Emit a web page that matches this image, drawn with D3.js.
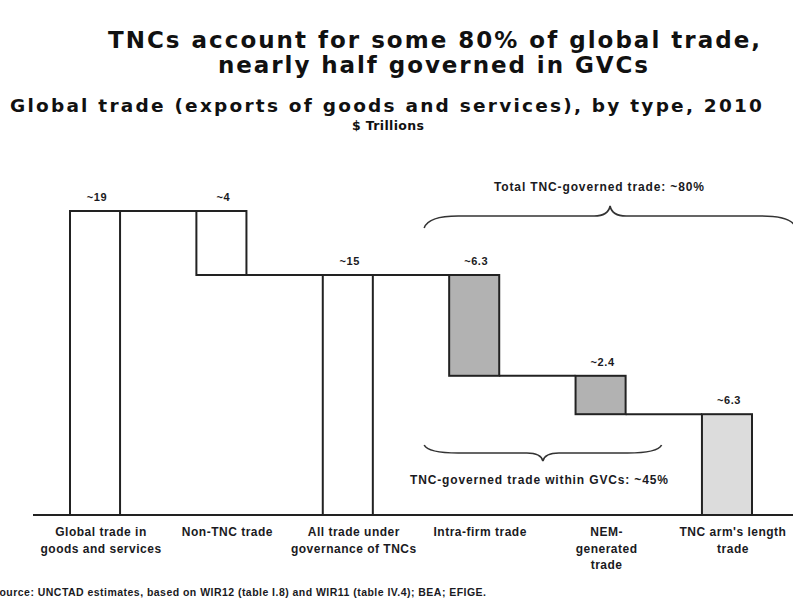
<!DOCTYPE html>
<html>
<head>
<meta charset="utf-8">
<script src="https://cdn.jsdelivr.net/npm/d3@7"></script>
<style>
  body { margin: 0; background: #fff; }
  svg { display: block; }
  .hd { font-family: "DejaVu Sans", Verdana, sans-serif; font-weight: bold; fill: #111; }
  .lbl { font-family: "Liberation Sans", Arial, sans-serif; font-weight: bold; fill: #1a1a22; }
</style>
</head>
<body>
<script>
// Comercio global por tipo, 2010 ($ billones)
var categorias = ["Global trade in|goods and services", "Non-TNC trade", "All trade under|governance of TNCs",
                  "Intra-firm trade", "NEM-|generated|trade", "TNC arm's length|trade"];
var valores = [19, 4, 15, 6.3, 2.4, 6.3];
var tipos = ["total", "step", "total", "step", "step", "step"];
var etiquetas = ["~19", "~4", "~15", "~6.3", "~2.4", "~6.3"];
var rellenos = ["#fff", "#fff", "#fff", "#b2b2b2", "#b2b2b2", "#dcdcdc"];

var width = 793, height = 604;

var svg = d3.select("body").append("svg")
    .attr("width", width)
    .attr("height", height);

// texto con ancho fijo (espaciado ajustado)
function texto(cls, x, y, size, w, str) {
    var t = svg.append("text").attr("class", cls)
        .attr("x", x).attr("y", y)
        .style("font-size", size + "px")
        .text(str);
    if (w) t.attr("textLength", w).attr("lengthAdjust", "spacing");
    return t;
}

// titulos
texto("hd", 108, 48, 23, 652, "TNCs account for some 80% of global trade,");
texto("hd", 218, 73, 23, 430, "nearly half governed in GVCs");
texto("hd", 10, 112, 18.5, 752, "Global trade (exports of goods and services), by type, 2010");
texto("hd", 352, 130, 12.5, 72, "$ Trillions");

var x = d3.scaleBand()
    .domain(categorias)
    .range([70, 752])
    .paddingInner(0.604)
    .paddingOuter(0);

var y = d3.scaleLinear()
    .domain([0, 19])
    .range([515, 211]);

// calcular inicio y fin de cada barra
var nivel = 0;
var datos = categorias.map(function(c, i) {
    var d = { cat: c, valor: valores[i], etiqueta: etiquetas[i], fill: rellenos[i] };
    if (tipos[i] == "total") {
        d.y0 = 0; d.y1 = valores[i];
        nivel = valores[i];
    } else {
        d.y1 = nivel; d.y0 = nivel - valores[i];
        nivel = d.y0;
        if (i == 1) nivel = valores[2];
    }
    d.nivel = (tipos[i] == "total") ? d.y1 : d.y0;
    return d;
});

// linea base
svg.append("line")
    .attr("x1", 33).attr("x2", width)
    .attr("y1", y(0)).attr("y2", y(0))
    .attr("stroke", "#222").attr("stroke-width", 2);

// conectores
svg.append("g").selectAll("line")
    .data(datos.slice(0, -1))
    .enter().append("line")
    .attr("x1", function(d) { return x(d.cat) + x.bandwidth(); })
    .attr("x2", function(d, i) { return x(categorias[i + 1]); })
    .attr("y1", function(d) { return y(d.nivel); })
    .attr("y2", function(d) { return y(d.nivel); })
    .attr("stroke", "#222").attr("stroke-width", 2);

svg.append("g").selectAll("rect")
    .data(datos)
    .enter().append("rect")
    .attr("x", function(d) { return x(d.cat); })
    .attr("width", x.bandwidth())
    .attr("y", function(d) { return y(d.y1); })
    .attr("height", function(d) { return y(d.y0) - y(d.y1); })
    .attr("fill", function(d) { return d.fill; })
    .attr("stroke", "#222").attr("stroke-width", 2);

// valores
svg.append("g").selectAll("text")
    .data(datos)
    .enter().append("text")
    .attr("class", "lbl")
    .attr("x", function(d) { return x(d.cat) + x.bandwidth() / 2 + 2; })
    .attr("y", function(d) { return y(d.y1) - 10; })
    .attr("text-anchor", "middle")
    .style("font-size", "11px")
    .style("letter-spacing", "0.6px")
    .text(function(d) { return d.etiqueta; });

// etiquetas eje x
var xl = svg.append("g").selectAll("text")
    .data(datos)
    .enter().append("text")
    .attr("class", "lbl")
    .attr("text-anchor", "middle")
    .style("font-size", "12px")
    .style("letter-spacing", "0.5px")
    .attr("transform", function(d) { return "translate(" + (x(d.cat) + x.bandwidth() / 2 + 6) + ",536)"; });
xl.selectAll("tspan")
    .data(function(d) { return d.cat.split("|"); })
    .enter().append("tspan")
    .attr("x", 0)
    .attr("dy", function(d, i) { return i ? 16.5 : 0; })
    .text(function(d) { return d; });

// llaves
function brace(x1, x2, yEnd, yFlat, yTip) {
    var m = (x1 + x2) / 2, r = 34, t = 16;
    var p = d3.path();
    p.moveTo(x1, yEnd);
    p.quadraticCurveTo(x1 + 4, yFlat, x1 + r, yFlat);
    p.lineTo(m - t, yFlat);
    p.quadraticCurveTo(m - 2, yFlat, m, yTip);
    p.quadraticCurveTo(m + 2, yFlat, m + t, yFlat);
    p.lineTo(x2 - r, yFlat);
    p.quadraticCurveTo(x2 - 4, yFlat, x2, yEnd);
    return p.toString();
}

var bx1 = x(categorias[3]) - 25;
svg.append("path")
    .attr("d", brace(bx1, x(categorias[5]) + x.bandwidth() + 44, 228, 216, 206))
    .attr("fill", "none").attr("stroke", "#333").attr("stroke-width", 1.6);
svg.append("path")
    .attr("d", brace(bx1, x(categorias[4]) + x.bandwidth() + 36, 445, 453, 461))
    .attr("fill", "none").attr("stroke", "#333").attr("stroke-width", 1.6);

texto("lbl", 494, 191, 12, 210, "Total TNC-governed trade: ~80%");
texto("lbl", 410, 484, 12, 258, "TNC-governed trade within GVCs: ~45%");
texto("lbl", -8, 596, 10.5, 494, "Source: UNCTAD estimates, based on WIR12 (table I.8) and WIR11 (table IV.4); BEA; EFIGE.");
</script>
</body>
</html>
